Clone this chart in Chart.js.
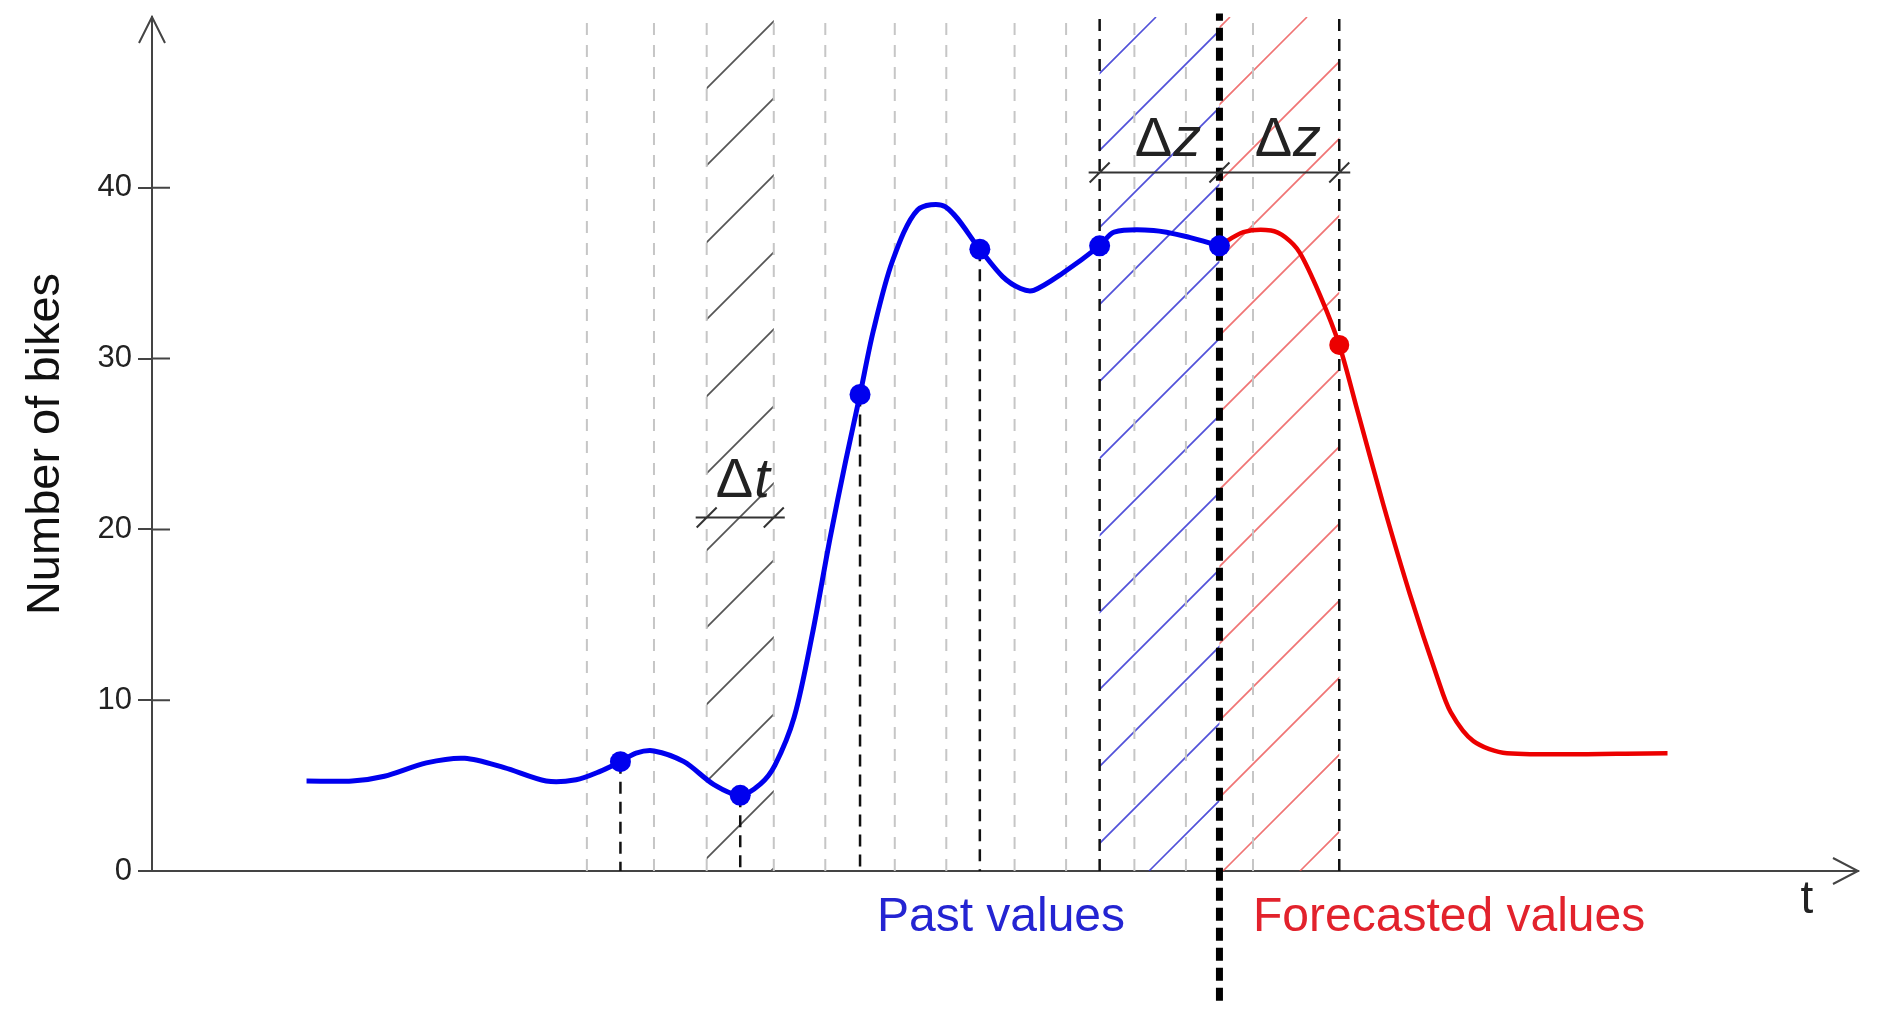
<!DOCTYPE html>
<html>
<head>
<meta charset="utf-8">
<script src="https://cdn.jsdelivr.net/npm/chart.js@4.4.1/dist/chart.umd.min.js"></script>
<style>
  html, body { margin: 0; background: #fff; }
  #wrap { width: 1881px; height: 1013px; }
</style>
</head>
<body>
<div id="wrap"><canvas id="bikes" width="1881" height="1013"></canvas></div>
<script>
// time axis is in sample steps: samples sit at whole numbers
const pastX = [-1.62, -1.24, -0.97, -0.62, -0.3, 0.03, 0.38, 0.63, 0.83, 1.0, 1.13, 1.28, 1.53, 1.78, 2.0, 2.17, 2.29, 2.45, 2.6, 2.75,
  2.88, 3.0, 3.11, 3.27, 3.48, 3.71, 4.0, 4.19, 4.34, 4.45, 4.69, 5.0, 5.12, 5.45, 5.75, 6.0];
const pastY = [5.27, 5.27, 5.55, 6.33, 6.6, 6.05, 5.27, 5.34, 5.83, 6.4, 6.9, 7.03, 6.4, 5.06, 4.43, 5.1, 6.2, 9.0, 13.8, 19.5,
  24.0, 27.9, 31.6, 35.7, 38.7, 38.9, 36.4, 34.8, 34.1, 34.0, 35.0, 36.6, 37.4, 37.5, 37.1, 36.6];

const forecastX = [6.0, 6.2, 6.43, 6.55, 6.67, 6.84, 7.0, 7.15, 7.37, 7.59, 7.82, 7.93, 8.12, 8.4, 9.74];
const forecastY = [36.6, 37.4, 37.5, 37.1, 36.2, 33.7, 30.8, 27.0, 21.4, 16.2, 11.3, 9.3, 7.6, 6.9, 6.9];

const sampleX = [1, 2, 3, 4, 5, 6];
const sampleY = [6.4, 4.43, 27.9, 36.4, 36.6, 36.6];
const forecastSampleX = [7];
const forecastSampleY = [30.8];

const dropX = [1, 2, 3, 4];          // short dashed drops from samples
const zoneX = [5, 7];                // Δz boundaries
const nowX = 6;                      // present time
const windowEdges = [0.72, 1.28, 1.72, 2.28, 2.71, 3.29, 3.72, 4.29, 4.72, 5.29, 5.72, 6.28];

const dtZone = [1.72, 2.28];
const pastZone = [5, 6];
const futureZone = [6, 7];

const yTicks = [0, 10, 20, 30, 40];
const yMin = 0, yMax = 50;
const xMin = -2.91, xMax = 11.33;

const dimDtY = 20.7, dimDzY = 40.9;

const font = "'Liberation Sans', Arial, sans-serif";

const pts = (xs, ys) => xs.map((x, i) => ({ x, y: ys[i] }));
const vlines = (xs, y0, y1) => xs.flatMap((x) => [{ x, y: y0 }, { x, y: y1 }, { x, y: null }]);

function hatch(ctx, x0, x1, y0, y1, step, phase, color, width) {
  ctx.save();
  ctx.beginPath();
  ctx.rect(x0, y0, x1 - x0, y1 - y0);
  ctx.clip();
  ctx.strokeStyle = color;
  ctx.lineWidth = width;
  ctx.beginPath();
  const start = Math.floor((x0 + y0 - phase) / step) * step + phase;
  for (let c = start; c <= x1 + y1 + step; c += step) {
    ctx.moveTo(c - y1, y1);
    ctx.lineTo(c - y0, y0);
  }
  ctx.stroke();
  ctx.restore();
}

function dimension(ctx, xs, y) {
  ctx.save();
  ctx.strokeStyle = "#333";
  ctx.lineWidth = 2;
  ctx.beginPath();
  ctx.moveTo(xs[0] - 11, y);
  ctx.lineTo(xs[xs.length - 1] + 11, y);
  xs.forEach((x) => {
    ctx.moveTo(x - 10, y + 10);
    ctx.lineTo(x + 10, y - 10);
  });
  ctx.stroke();
  ctx.restore();
}

function deltaLabel(ctx, cx, baseline, letter) {
  ctx.save();
  ctx.fillStyle = "#222";
  ctx.textBaseline = "alphabetic";
  ctx.textAlign = "left";
  const up = "56px " + font, it = "italic 56px " + font;
  ctx.font = up;
  const wd = ctx.measureText("\u0394").width;
  ctx.font = it;
  const wl = ctx.measureText(letter).width;
  const x0 = cx - (wd + wl) / 2;
  ctx.font = up;
  ctx.fillText("\u0394", x0, baseline);
  ctx.font = it;
  ctx.fillText(letter, x0 + wd + 1, baseline);
  ctx.restore();
}

const sketch = {
  id: "sketch",
  beforeDatasetsDraw(chart) {
    const { ctx, scales: { x, y } } = chart;
    const top = y.getPixelForValue(yMax), bot = y.getPixelForValue(0);
    hatch(ctx, x.getPixelForValue(dtZone[0]), x.getPixelForValue(dtZone[1]), top, bot, 77, 25, "#555", 1.8);
    hatch(ctx, x.getPixelForValue(pastZone[0]), x.getPixelForValue(pastZone[1]), top, bot, 77, 18, "rgba(50,50,210,0.85)", 1.6);
    hatch(ctx, x.getPixelForValue(futureZone[0]), x.getPixelForValue(futureZone[1]), top, bot, 77, 15, "rgba(235,70,70,0.75)", 1.6);
  },
  afterDatasetsDraw(chart) {
    const { ctx, chartArea: a, scales: { x, y } } = chart;
    // inner half of the y ticks
    ctx.save();
    ctx.strokeStyle = "#444";
    ctx.lineWidth = 2;
    ctx.beginPath();
    yTicks.forEach((v) => {
      const py = y.getPixelForValue(v);
      ctx.moveTo(a.left, py);
      ctx.lineTo(a.left + 18, py);
    });
    // arrow heads
    ctx.moveTo(a.left - 13, a.top + 26);
    ctx.lineTo(a.left, a.top);
    ctx.lineTo(a.left + 13, a.top + 26);
    ctx.moveTo(a.right - 25, a.bottom - 13);
    ctx.lineTo(a.right, a.bottom);
    ctx.lineTo(a.right - 25, a.bottom + 13);
    ctx.stroke();
    ctx.restore();

    // dimension marks
    const dtPx = dtZone.map((v) => x.getPixelForValue(v));
    dimension(ctx, dtPx, y.getPixelForValue(dimDtY));
    const dzPx = [pastZone[0], pastZone[1], futureZone[1]].map((v) => x.getPixelForValue(v));
    dimension(ctx, dzPx, y.getPixelForValue(dimDzY));

    deltaLabel(ctx, (dtPx[0] + dtPx[1]) / 2 + 2, y.getPixelForValue(dimDtY) - 20, "t");
    deltaLabel(ctx, (dzPx[0] + dzPx[1]) / 2 + 8, y.getPixelForValue(dimDzY) - 16, "z");
    deltaLabel(ctx, (dzPx[1] + dzPx[2]) / 2 + 8, y.getPixelForValue(dimDzY) - 16, "z");

    // bottom captions
    ctx.save();
    ctx.font = "48px " + font;
    ctx.textBaseline = "alphabetic";
    ctx.textAlign = "center";
    ctx.fillStyle = "#2424d2";
    ctx.fillText("Past values", 1001, a.bottom + 60);
    ctx.textAlign = "left";
    ctx.fillStyle = "#e2222c";
    ctx.fillText("Forecasted values", 1253, a.bottom + 60);
    ctx.textAlign = "center";
    ctx.fillStyle = "#222";
    ctx.font = "46px " + font;
    ctx.fillText("t", a.right - 51, a.bottom + 42);
    ctx.restore();
  },
};

new Chart(document.getElementById("bikes"), {
  type: "line",
  data: {
    datasets: [
      {
        data: pts(sampleX, sampleY),
        showLine: false,
        pointRadius: 10.5,
        pointBackgroundColor: "#0000ee",
        pointBorderWidth: 0,
      },
      {
        data: pts(forecastSampleX, forecastSampleY),
        showLine: false,
        pointRadius: 10,
        pointBackgroundColor: "#ec0000",
        pointBorderWidth: 0,
      },
      {
        data: pts(pastX, pastY),
        borderColor: "#0000ee",
        borderWidth: 5,
        pointRadius: 0,
        tension: 0.3,
      },
      {
        data: pts(forecastX, forecastY),
        borderColor: "#ec0000",
        borderWidth: 4.5,
        pointRadius: 0,
        tension: 0.3,
      },
      {
        data: vlines([nowX], -7.6, 50.2),
        borderColor: "#000",
        borderWidth: 7,
        borderDash: [13, 7],
        pointRadius: 0,
        clip: false,
      },
      {
        data: dropX.flatMap((x) => [{ x, y: sampleY[sampleX.indexOf(x)] }, { x, y: 0 }, { x, y: null }]),
        borderColor: "#111",
        borderWidth: 2.5,
        borderDash: [12, 8],
        pointRadius: 0,
      },
      {
        data: vlines(zoneX, 0, yMax),
        borderColor: "#111",
        borderWidth: 2.5,
        borderDash: [12, 8],
        pointRadius: 0,
      },
      {
        data: vlines(windowEdges, 0, yMax),
        borderColor: "#c6c6c6",
        borderWidth: 2,
        borderDash: [12, 10],
        pointRadius: 0,
      },
    ],
  },
  options: {
    responsive: false,
    animation: false,
    spanGaps: false,
    layout: { padding: { top: 17, right: 23, left: 0, bottom: 0 } },
    plugins: { legend: { display: false }, tooltip: { enabled: false } },
    scales: {
      x: {
        type: "linear",
        min: xMin,
        max: xMax,
        ticks: { display: false },
        grid: { display: false },
        border: { display: true, color: "#444", width: 2 },
        afterFit: (s) => { s.height = 142; s.paddingLeft = 0; s.paddingRight = 0; },
      },
      y: {
        min: yMin,
        max: yMax,
        afterBuildTicks: (s) => { s.ticks = yTicks.map((v) => ({ value: v })); },
        ticks: {
          font: { family: font, size: 31 },
          color: "#222",
          padding: 6,
        },
        grid: { drawOnChartArea: false, drawTicks: true, tickLength: 14, color: "#444", lineWidth: 2 },
        border: { display: true, color: "#444", width: 2 },
        title: {
          display: true,
          text: "Number of bikes",
          font: { family: font, size: 47 },
          color: "#111",
          padding: { top: 18 },
        },
        afterFit: (s) => { s.width = 152; s.paddingTop = 0; s.paddingBottom = 0; },
      },
    },
  },
  plugins: [sketch],
});
</script>
</body>
</html>
